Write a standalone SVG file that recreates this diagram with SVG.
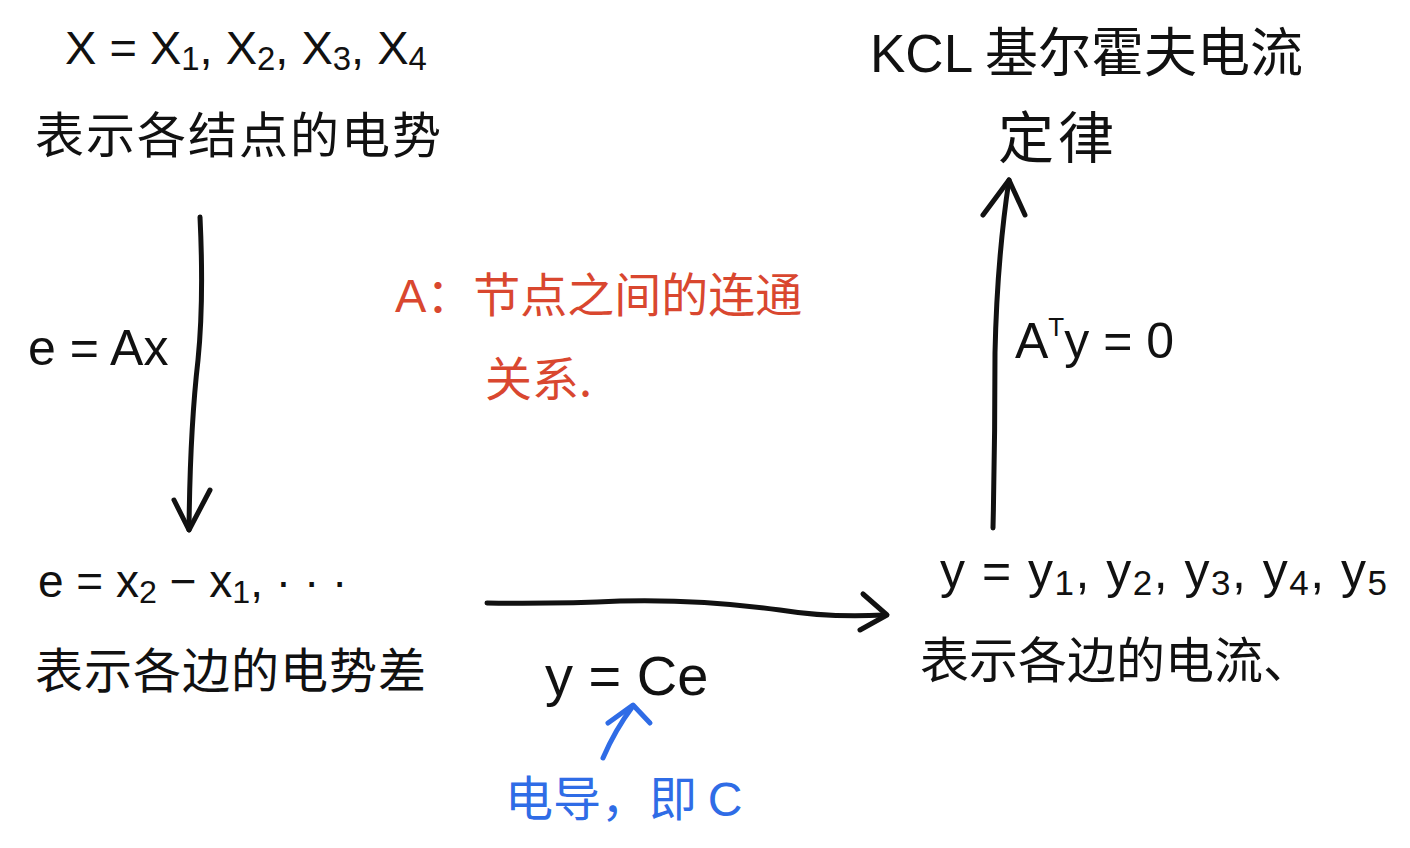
<svg xmlns="http://www.w3.org/2000/svg" width="1410" height="848" viewBox="0 0 1410 848">
<style>
.t{font-family:"Liberation Sans","Noto Sans CJK SC",sans-serif;fill:#111}
.c{font-family:"Noto Sans CJK SC","Liberation Sans",sans-serif;fill:#111}
.red{fill:#d9472f}
.blue{fill:#2f6ce6}
.ln{fill:none;stroke:#111;stroke-width:5;stroke-linecap:round;stroke-linejoin:round}
.bl{fill:none;stroke:#2f6ce6;stroke-width:5;stroke-linecap:round;stroke-linejoin:round}
.sub{font-size:0.7em}
</style>
<rect width="1410" height="848" fill="#fff"/>
<g id="node-x">
<text class="t" x="65" y="64" font-size="47">X = X<tspan class="sub" dy="6">1</tspan><tspan dy="-6">, X</tspan><tspan class="sub" dy="6">2</tspan><tspan dy="-6">, X</tspan><tspan class="sub" dy="6">3</tspan><tspan dy="-6">, X</tspan><tspan class="sub" dy="6">4</tspan></text>
<text class="c" x="35" y="153" font-size="49" letter-spacing="2">表示各结点的电势</text>
</g>
<g id="node-e">
<text class="t" x="38" y="597" font-size="46">e = x<tspan class="sub" dy="6">2</tspan><tspan dy="-6"> − x</tspan><tspan class="sub" dy="6">1</tspan><tspan dy="-6">, · · ·</tspan></text>
<text class="c" x="35" y="688" font-size="48" letter-spacing="1">表示各边的电势差</text>
</g>
<g id="node-y">
<text class="t" x="940" y="588" font-size="50" letter-spacing="1.5">y = y<tspan class="sub" dy="7">1</tspan><tspan dy="-7">, y</tspan><tspan class="sub" dy="7">2</tspan><tspan dy="-7">, y</tspan><tspan class="sub" dy="7">3</tspan><tspan dy="-7">, y</tspan><tspan class="sub" dy="7">4</tspan><tspan dy="-7">, y</tspan><tspan class="sub" dy="7">5</tspan></text>
<text class="c" x="920" y="678" font-size="49">表示各边的电流、</text>
</g>
<g id="node-kcl">
<text class="c" x="870" y="72" font-size="53"><tspan font-family="Liberation Sans">KCL</tspan> 基尔霍夫电流</text>
<text class="c" x="998" y="158" font-size="56" letter-spacing="4">定律</text>
</g>
<g id="note-a">
<text class="c red" x="395" y="312" font-size="47"><tspan font-family="Liberation Sans">A</tspan>：节点之间的连通</text>
<text class="c red" x="485" y="396" font-size="47">关系.</text>
</g>
<g id="label-eax">
<text class="t" x="28" y="365" font-size="50">e = Ax</text>
</g>
<g id="label-aty">
<text class="t" x="1015" y="358" font-size="50">A<tspan font-size="26" dy="-22">T</tspan><tspan dy="22">y = 0</tspan></text>
</g>
<g id="label-yce">
<text class="t" x="545" y="695" font-size="56">y = Ce</text>
</g>
<g id="note-c">
<text class="c blue" x="505" y="816" font-size="48">电导，即 <tspan font-family="Liberation Sans">C</tspan></text>
</g>
<g id="connectors">
<path class="ln" d="M200 217 Q204 300 198 360 Q190 430 189 530"/>
<path class="ln" d="M174 500 L189 530 L210 490"/>
<path class="ln" d="M487 603 Q560 604 620 601 Q700 599 780 610 Q830 618 884 615"/>
<path class="ln" d="M863 594 L887 615 L860 630"/>
<path class="ln" d="M993 528 Q995 440 995 353 Q997 260 1009 180"/>
<path class="ln" d="M983 215 L1009 180 L1025 215"/>
<path class="bl" d="M603 758 Q615 730 633 706"/>
<path class="bl" d="M608 723 L633 705 L650 723"/>
</g>
</svg>
